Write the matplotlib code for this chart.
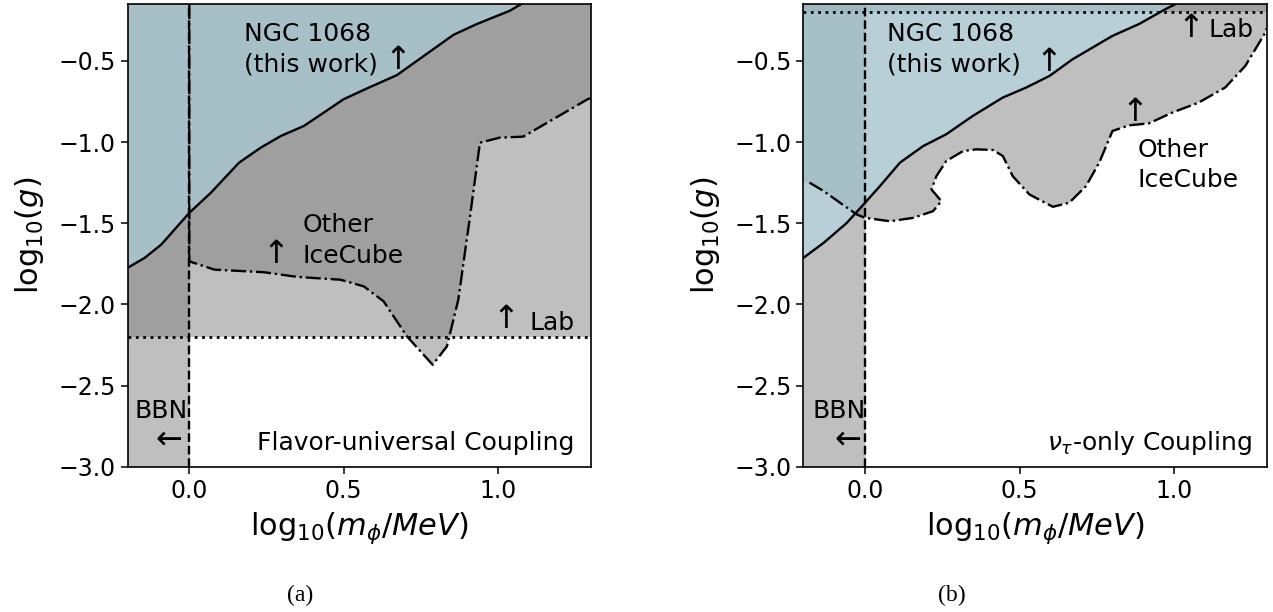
import numpy as np
import matplotlib
matplotlib.use("Agg")
import matplotlib.pyplot as plt

# ---- data (log10 m_phi [MeV], log10 g) ----
x_lo, x_hi = -0.2, 1.3
y_lo, y_hi = -3.0, -0.15

# (a) flavor-universal coupling
ngc_a_x = [-0.2, -0.145, -0.091, 0.0, 0.070, 0.161, 0.231, 0.296, 0.371, 0.5,
           0.575, 0.672, 0.79, 0.855, 0.930, 1.038, 1.075]
ngc_a_y = [-1.775, -1.714, -1.632, -1.436, -1.312, -1.127, -1.035, -0.963, -0.901, -0.736,
           -0.670, -0.588, -0.428, -0.340, -0.274, -0.191, -0.15]
ice_a_x = [0.0, 0.0, 0.081, 0.242, 0.35, 0.489, 0.565, 0.629, 0.705, 0.788, 0.834,
           0.871, 0.909, 0.941, 1.005, 1.081, 1.29, 1.3]
ice_a_y = [-0.15, -1.735, -1.786, -1.802, -1.831, -1.848, -1.889, -1.981, -2.198, -2.372, -2.259,
           -1.971, -1.457, -1.004, -0.973, -0.967, -0.736, -0.73]
lab_a = -2.2

# (b) nu_tau-only coupling
ngc_b_x = [-0.2, -0.134, -0.059, 0.0, 0.048, 0.113, 0.188, 0.263, 0.349, 0.446,
           0.522, 0.597, 0.672, 0.801, 0.887, 0.973, 1.005]
ngc_b_y = [-1.714, -1.621, -1.498, -1.374, -1.272, -1.127, -1.025, -0.952, -0.839, -0.726,
           -0.664, -0.593, -0.490, -0.346, -0.273, -0.181, -0.15]
ice_b_x = [-0.18, -0.134, -0.081, -0.027, 0.0, 0.081, 0.156, 0.220, 0.247, 0.215, 0.231,
           0.263, 0.317, 0.360, 0.414, 0.446, 0.478, 0.532, 0.608, 0.661, 0.715, 0.758,
           0.801, 0.855, 0.919, 0.994, 1.080, 1.166, 1.231, 1.296, 1.3]
ice_b_y = [-1.250, -1.302, -1.374, -1.446, -1.467, -1.488, -1.467, -1.426, -1.364, -1.292, -1.210,
           -1.117, -1.056, -1.045, -1.049, -1.086, -1.210, -1.323, -1.399, -1.374, -1.272, -1.127,
           -0.932, -0.897, -0.885, -0.819, -0.757, -0.664, -0.531, -0.325, -0.30]
lab_b = -0.2
bbn = 0.0

gray = "gray"
blue = "#a0c0ca"

plt.rcParams["font.family"] = "DejaVu Sans"
fig = plt.figure(figsize=(12.73, 6.12), dpi=100)
ax_a = fig.add_axes([0.1002, 0.2374, 0.3639, 0.756])
ax_b = fig.add_axes([0.6310, 0.2374, 0.3640, 0.756])

txt = 18
arr = 23


def style(ax):
    ax.set_xlim(x_lo, x_hi)
    ax.set_ylim(y_lo, y_hi)
    ax.set_xticks([0.0, 0.5, 1.0])
    ax.set_yticks([-3.0, -2.5, -2.0, -1.5, -1.0, -0.5])
    ax.tick_params(labelsize=17, length=5, width=1.1)
    for s in ax.spines.values():
        s.set_linewidth(1.2)
    ax.set_xlabel(r"$\mathrm{log}_{10}(m_\phi/MeV)$", fontsize=22, labelpad=6)
    ax.set_ylabel(r"$\mathrm{log}_{10}(g)$", fontsize=22, labelpad=9)


# ---------------- panel (a) ----------------
ax = ax_a
nx, ny = np.array(ngc_a_x), np.array(ngc_a_y)
ix, iy = np.array(ice_a_x), np.array(ice_a_y)
left = nx <= bbn
ax.fill_between([x_lo, x_hi], lab_a, y_hi, color=gray, alpha=0.5, lw=0)
ax.fill_between(nx[left], y_lo, ny[left], color=gray, alpha=0.5, lw=0)
ax.fill(np.r_[ix[1:], x_hi, nx[::-1][:-3]], np.r_[iy[1:], y_hi, ny[::-1][:-3]],
        color=gray, alpha=0.5, lw=0)
ax.fill_between(nx, ny, y_hi, color=blue, alpha=0.75, lw=0)
ax.plot(nx, ny, color="black", lw=1.7)
ax.plot(ix, iy, color="black", lw=1.7, ls="-.")
ax.axvline(bbn, color="black", lw=1.7, ls="--")
ax.axhline(lab_a, color="black", lw=2, ls=":")

ax.text(0.176, -0.262, "NGC 1068\n(this work)", fontsize=txt, va="top", ha="left", linespacing=1.32)
ax.text(0.676, -0.499, "↑", fontsize=arr, va="center", ha="center")
ax.text(0.366, -1.44, "Other\nIceCube", fontsize=txt, va="top", ha="left", linespacing=1.32)
ax.text(0.280, -1.693, "↑", fontsize=arr, va="center", ha="center")
ax.text(1.025, -2.094, "↑", fontsize=arr, va="center", ha="center")
ax.text(1.102, -2.156, "Lab", fontsize=txt, va="baseline", ha="left")
ax.text(-0.178, -2.699, "BBN", fontsize=txt, va="baseline", ha="left")
ax.text(-0.065, -2.835, "←", fontsize=arr, va="center", ha="center")
ax.text(1.247, -2.897, "Flavor-universal Coupling", fontsize=txt, va="baseline", ha="right")
style(ax)

# ---------------- panel (b) ----------------
ax = ax_b
nx, ny = np.array(ngc_b_x), np.array(ngc_b_y)
ix, iy = np.array(ice_b_x), np.array(ice_b_y)
left = nx <= bbn
neg = ix <= bbn
pos = ix >= bbn
ax.fill_between([x_lo, x_hi], lab_b, y_hi, color=gray, alpha=0.5, lw=0)
ax.fill_between(nx[left], y_lo, ny[left], color=gray, alpha=0.5, lw=0)
ax.fill(np.r_[x_lo, ix[neg], bbn, x_lo], np.r_[iy[0], iy[neg], y_hi, y_hi],
        color=gray, alpha=0.5, lw=0)
ax.fill(np.r_[ix[pos], x_hi, nx[::-1][:-3]], np.r_[iy[pos], y_hi, ny[::-1][:-3]],
        color=gray, alpha=0.5, lw=0)
ax.fill_between(nx, ny, y_hi, color=blue, alpha=0.75, lw=0)
ax.plot(nx, ny, color="black", lw=1.7)
ax.plot(ix, iy, color="black", lw=1.7, ls="-.")
ax.axvline(bbn, color="black", lw=1.7, ls="--")
ax.axhline(lab_b, color="black", lw=2, ls=":")

ax.text(0.071, -0.262, "NGC 1068\n(this work)", fontsize=txt, va="top", ha="left", linespacing=1.32)
ax.text(0.594, -0.511, "↑", fontsize=arr, va="center", ha="center")
ax.text(1.055, -0.298, "↑", fontsize=arr, va="center", ha="center")
ax.text(1.113, -0.354, "Lab", fontsize=txt, va="baseline", ha="left")
ax.text(0.874, -0.820, "↑", fontsize=arr, va="center", ha="center")
ax.text(0.881, -0.975, "Other\nIceCube", fontsize=txt, va="top", ha="left", linespacing=1.32)
ax.text(-0.171, -2.699, "BBN", fontsize=txt, va="baseline", ha="left")
ax.text(-0.055, -2.835, "←", fontsize=arr, va="center", ha="center")
ax.text(1.252, -2.897, r"$\nu_\tau$-only Coupling", fontsize=txt, va="baseline", ha="right")
style(ax)

fig.text(300 / 1273, 1 - 595 / 612, "(a)", family="Liberation Serif", fontsize=17,
         ha="center", va="center")
fig.text(952 / 1273, 1 - 595 / 612, "(b)", family="Liberation Serif", fontsize=17,
         ha="center", va="center")

fig.savefig("out.png", dpi=100)
